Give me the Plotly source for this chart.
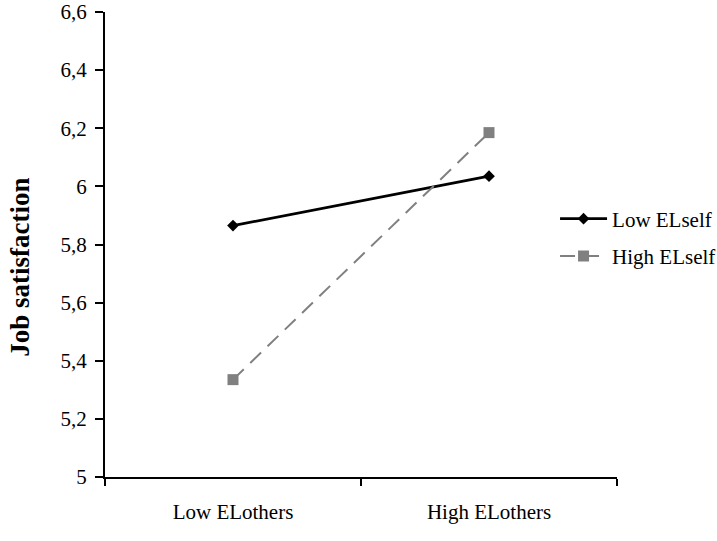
import plotly.graph_objects as go

categories = ["Low ELothers", "High ELothers"]
low_elself = [5.865, 6.035]
high_elself = [5.335, 6.185]
series_names = ["Low ELself", "High ELself"]
y_ticks = [5, 5.2, 5.4, 5.6, 5.8, 6, 6.2, 6.4, 6.6]
y_title = "Job satisfaction"

FONT = "Liberation Serif, Times New Roman, serif"

fig = go.Figure()
fig.add_trace(go.Scatter(
    x=categories, y=low_elself, name=series_names[0], mode="lines+markers",
    line=dict(color="black", width=2.8),
    marker=dict(symbol="diamond", size=9, color="black"),
    legendgroup="a",
))
fig.add_trace(go.Scatter(
    x=categories, y=high_elself, name=series_names[1], mode="lines+markers",
    line=dict(color="#808080", width=2, dash="15px,9px"),
    marker=dict(symbol="square", size=11, color="#808080"),
    legendgroup="b",
))

fig.update_layout(
    width=717, height=541,
    margin=dict(l=105, r=100, t=12, b=64, autoexpand=False),
    paper_bgcolor="white", plot_bgcolor="white",
    font=dict(family=FONT, size=21, color="black"),
    separators=",.",
    showlegend=True,
    legend=dict(x=0.879, y=0.515, xanchor="left", yanchor="middle",
                font=dict(family=FONT, size=21, color="black"),
                bgcolor="rgba(0,0,0,0)", tracegroupgap=7, itemwidth=47),
    xaxis=dict(
        type="category", range=[-0.5, 1.5], automargin=False,
        tickson="boundaries", ticks="outside", ticklen=7, tickwidth=1.5,
        tickcolor="black",
        showline=True, linecolor="black", linewidth=2,
        showgrid=False, zeroline=False,
        ticklabelstandoff=15,
        tickfont=dict(family=FONT, size=21, color="black"),
    ),
    yaxis=dict(
        range=[5, 6.6], tickvals=y_ticks, automargin=False,
        ticks="outside", ticklen=8, tickwidth=1.5, tickcolor="black",
        showline=True, linecolor="black", linewidth=2,
        showgrid=False, zeroline=False,
        ticklabelstandoff=4, ticklabeloverflow="allow",
        tickfont=dict(family=FONT, size=21, color="black"),
    ),
    annotations=[dict(
        text="<b>" + y_title + "</b>", xref="paper", yref="paper",
        x=-0.166, y=0.45, xanchor="center", yanchor="middle",
        textangle=-90, showarrow=False,
        font=dict(family=FONT, size=27, color="black"),
    )],
)

fig.write_html(
    "out.html",
    config={"displayModeBar": False},
    post_script="document.body.style.margin='0';",
)
